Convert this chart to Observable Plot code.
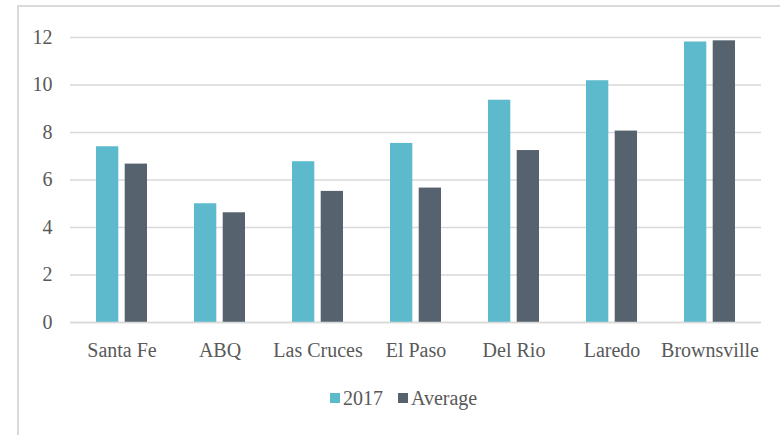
<!DOCTYPE html>
<html>
<head>
<meta charset="utf-8">
<script src="https://cdn.jsdelivr.net/npm/d3@7"></script>
<script src="https://cdn.jsdelivr.net/npm/@observablehq/plot@0.6"></script>
<style>
  html, body { margin: 0; padding: 0; background: #fff; overflow: hidden; width: 780px; height: 435px; }
  #wrap { position: relative; width: 780px; height: 435px; }
  #frame { position: absolute; left: 17px; top: 5px; width: 820px; height: 520px;
           border-left: 2px solid #d9d9d9; border-top: 2px solid #d9d9d9; pointer-events: none; }
  #chart svg { display: block; }
  #chart svg, #chart svg text { font-family: "Liberation Serif", "Times New Roman", Times, Tinos, "DejaVu Serif", serif !important; }
  #legend { display: flex; align-items: center; padding-left: 330px; padding-top: 18px;
            font-family: "Liberation Serif", "Times New Roman", Times, Tinos, "DejaVu Serif", serif;
            font-size: 20px; color: #595959; line-height: 20px; }
  .item { display: flex; align-items: center; margin-right: 15px; }
  .sw { width: 10px; height: 10px; margin-right: 3px; }
</style>
</head>
<body>
<div id="wrap">
  <div id="chart"></div>
  <div id="legend"></div>
  <div id="frame"></div>
</div>
<script>
const cities = ["Santa Fe", "ABQ", "Las Cruces", "El Paso", "Del Rio", "Laredo", "Brownsville"];
const values2017 = [7.4, 5.0, 6.77, 7.54, 9.36, 10.18, 11.81];
const valuesAverage = [6.67, 4.62, 5.52, 5.66, 7.24, 8.06, 11.86];
const seriesNames = ["2017", "Average"];
const seriesColors = ["#5cbacc", "#56636f"];
const yTicks = [0, 2, 4, 6, 8, 10, 12];

const data2017 = cities.map((c, i) => ({city: c, value: values2017[i]}));
const dataAvg = cities.map((c, i) => ({city: c, value: valuesAverage[i]}));

const chart = Plot.plot({
  width: 780,
  height: 370,
  marginLeft: 70,
  marginRight: 19,
  marginTop: 37,
  marginBottom: 48,
  style: {fontSize: "20px", color: "#595959", background: "transparent"},
  x: {domain: cities, paddingInner: 0.483, paddingOuter: 0.2415, label: null, tickSize: 0, tickPadding: 20},
  y: {domain: [0, 12], ticks: yTicks, label: null, tickSize: 0, tickPadding: 18},
  marks: [
    Plot.ruleY(yTicks, {stroke: "#d9d9d9", strokeWidth: 1.6}),
    Plot.barY(data2017, {x: "city", y: "value", fill: seriesColors[0], insetRight: 28.7}),
    Plot.barY(dataAvg, {x: "city", y: "value", fill: seriesColors[1], insetLeft: 28.7}),
    Plot.ruleY([0], {stroke: "#d9d9d9", strokeWidth: 1.6})
  ]
});
document.getElementById("chart").appendChild(chart);

const legend = document.getElementById("legend");
seriesNames.forEach((name, i) => {
  const item = document.createElement("div");
  item.className = "item";
  const sw = document.createElement("div");
  sw.className = "sw";
  sw.style.background = seriesColors[i];
  const label = document.createElement("span");
  label.textContent = name;
  item.appendChild(sw);
  item.appendChild(label);
  legend.appendChild(item);
});
</script>
</body>
</html>
